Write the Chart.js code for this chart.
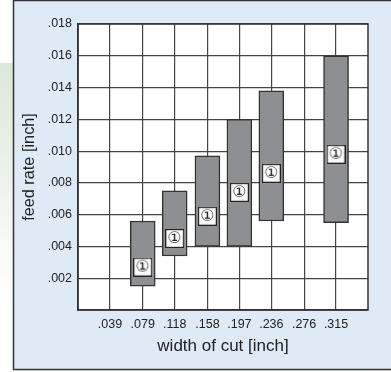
<!DOCTYPE html>
<html>
<head>
<meta charset="utf-8">
<script src="https://cdn.jsdelivr.net/npm/chart.js@4.4.1/dist/chart.umd.min.js"></script>
<style>
  html, body { margin: 0; padding: 0; background: #fff; }
  #wrap { width: 391px; height: 372px; position: relative; }
</style>
</head>
<body>
<div id="wrap"><canvas id="chart" width="391" height="372"></canvas></div>
<script>
// width of cut [inch] for each bar
var cutWidth = [0.079, 0.118, 0.158, 0.197, 0.236, 0.315];
// feed rate range [inch]
var feedMin = [0.0015, 0.0034, 0.0040, 0.0040, 0.0056, 0.0055];
var feedMax = [0.0056, 0.0075, 0.0097, 0.0120, 0.0138, 0.0160];
// position of the marker box on each bar
var markY = [0.0027, 0.0045, 0.0059, 0.0074, 0.0086, 0.0098];
var markText = '\u2460';

var xTickValues = [0.039, 0.079, 0.118, 0.158, 0.197, 0.236, 0.276, 0.315];
var xTickLabels = ['.039', '.079', '.118', '.158', '.197', '.236', '.276', '.315'];

var fontFamily = '"Liberation Sans", Arial, Helvetica, sans-serif';

// marker image used as point style
var mark = document.createElement('canvas');
mark.width = 19; mark.height = 19;
(function(){
    var c = mark.getContext('2d');
    c.fillStyle = '#fff';
    c.fillRect(0, 0, 19, 19);
    c.strokeStyle = '#222';
    c.lineWidth = 1.2;
    c.strokeRect(0.6, 0.6, 17.8, 17.8);
    c.fillStyle = '#222';
    c.font = '16px "DejaVu Sans", sans-serif';
    c.textAlign = 'center';
    c.textBaseline = 'middle';
    c.fillText(markText, 9.5, 10);
})();

var panelBg = {
    id: 'panelBg',
    beforeDraw: function(chart){
        var ctx = chart.ctx, a = chart.chartArea;
        ctx.save();
        ctx.fillStyle = '#fff';
        ctx.fillRect(0, 0, chart.width, chart.height);
        var g = ctx.createLinearGradient(0, 63, 0, 300);
        g.addColorStop(0, '#dbe7d8');
        g.addColorStop(1, '#ffffff');
        ctx.fillStyle = g;
        ctx.fillRect(0, 63, 14, 240);
        ctx.fillStyle = '#dfeaf7';
        ctx.fillRect(13.5, 0.5, chart.width, 369);
        ctx.strokeStyle = '#333';
        ctx.lineWidth = 1.5;
        ctx.strokeRect(13.5, 0.5, chart.width + 10, 369);
        ctx.fillStyle = '#fff';
        ctx.fillRect(a.left, a.top, a.right - a.left, a.bottom - a.top);
        ctx.restore();
    },
    beforeDatasetsDraw: function(chart){
        var ctx = chart.ctx, a = chart.chartArea;
        ctx.save();
        ctx.strokeStyle = '#333';
        ctx.lineWidth = 1.5;
        ctx.strokeRect(a.left, a.top, a.right - a.left, a.bottom - a.top);
        ctx.restore();
    }
};

var bars = [], marks = [];
for (var i = 0; i < cutWidth.length; i++){
    bars.push({ x: cutWidth[i], y: [feedMin[i], feedMax[i]] });
    marks.push({ x: cutWidth[i], y: markY[i] });
}

new Chart(document.getElementById('chart'), {
    type: 'bar',
    data: {
        datasets: [
            {
                type: 'scatter',
                data: marks,
                pointStyle: mark,
                order: 0
            },
            {
                data: bars,
                backgroundColor: '#8e8f93',
                borderColor: '#333',
                borderWidth: 1.5,
                borderSkipped: false,
                barThickness: 25,
                order: 1
            }
        ]
    },
    options: {
        responsive: false,
        animation: false,
        layout: { padding: { top: 24, right: 23, left: 0, bottom: 0 } },
        plugins: {
            legend: { display: false },
            tooltip: { enabled: false }
        },
        scales: {
            x: {
                type: 'linear',
                min: 0,
                max: 0.354,
                offset: false,
                afterBuildTicks: function(scale){
                    scale.ticks = xTickValues.map(function(v){ return { value: v }; });
                },
                afterFit: function(scale){ scale.height = 62; },
                grid: { color: '#444', lineWidth: 1.2, drawTicks: false, offset: false },
                border: { color: '#333', width: 1.5 },
                ticks: {
                    padding: 7,
                    maxRotation: 0,
                    autoSkip: false,
                    color: '#222',
                    font: { family: fontFamily, size: 12.5 },
                    callback: function(v, idx){ return xTickLabels[idx]; }
                },
                title: {
                    display: true,
                    text: 'width of cut [inch]',
                    color: '#222',
                    font: { family: fontFamily, size: 17 },
                    padding: { top: 0, bottom: 15 }
                }
            },
            y: {
                min: 0,
                max: 0.018,
                afterFit: function(scale){ scale.width = 78; },
                grid: { color: '#444', lineWidth: 1.2, drawTicks: false },
                border: { color: '#333', width: 1.5 },
                ticks: {
                    stepSize: 0.002,
                    padding: 6,
                    color: '#222',
                    font: { family: fontFamily, size: 12.5 },
                    callback: function(v){
                        if (v < 0.0001) return '';
                        return v.toFixed(3).replace(/^0/, '');
                    }
                },
                title: {
                    display: true,
                    text: 'feed rate [inch]',
                    color: '#222',
                    font: { family: fontFamily, size: 16.3 },
                    padding: { top: 20, bottom: 0 }
                }
            }
        }
    },
    plugins: [panelBg]
});
</script>
</body>
</html>
